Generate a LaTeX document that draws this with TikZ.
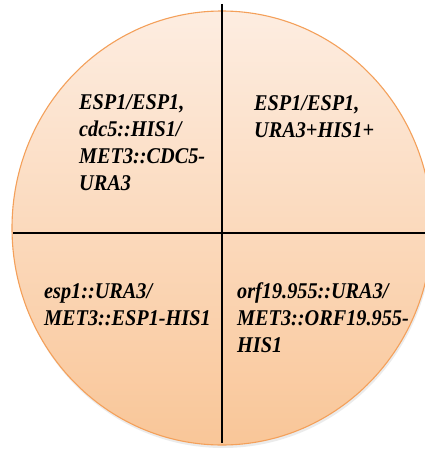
\documentclass[tikz,border=0pt]{standalone}
\usepackage{fontspec}
\newfontfamily\labfont{Liberation Serif}[FakeStretch=0.9]
\definecolor{peachtop}{RGB}{253,237,225}
\definecolor{peachbot}{RGB}{249,198,152}
\definecolor{rimorange}{RGB}{244,160,90}
\tikzset{
  lab/.style={anchor=base west, align=left, inner sep=0pt,
    font=\labfont\bfseries\itshape\fontsize{22.5}{26.7}\selectfont},
  divider/.style={draw=black, line width=1.3pt}
}
\begin{document}
\begin{tikzpicture}[x=1pt,y=-1pt]
\clip (0,0) rectangle (425,452);
\fill[white] (0,0) rectangle (425,452);
% shadow
\fill[black!30, opacity=0.25] (223,231) ellipse [x radius=210, y radius=217];
% disc
\shade[top color=peachtop, bottom color=peachbot] (222,228) ellipse [x radius=210, y radius=217];
\draw[rimorange, line width=1.1pt] (222,228) ellipse [x radius=210, y radius=217];
% dividers
\coordinate (vtop) at (222,4);
\coordinate (vbot) at (222,443);
\coordinate (hleft) at (13,233);
\coordinate (hright) at (426,233);
\draw[divider] (vtop) -- (vbot);
\draw[divider] (hleft) -- (hright);
% labels (base anchor = baseline of last line)
\node[lab] (tl) at (79,190) {ESP1/ESP1,\\cdc5::HIS1/\\MET3::CDC5-\\URA3};
\node[lab] (tr) at (254,137) {ESP1/ESP1,\\URA3+HIS1+};
\node[lab] (bl) at (44,325) {esp1::URA3/\\MET3::ESP1-HIS1};
\node[lab] (br) at (237,352) {orf19.955::URA3/\\MET3::ORF19.955-\\HIS1};
\end{tikzpicture}
\end{document}
